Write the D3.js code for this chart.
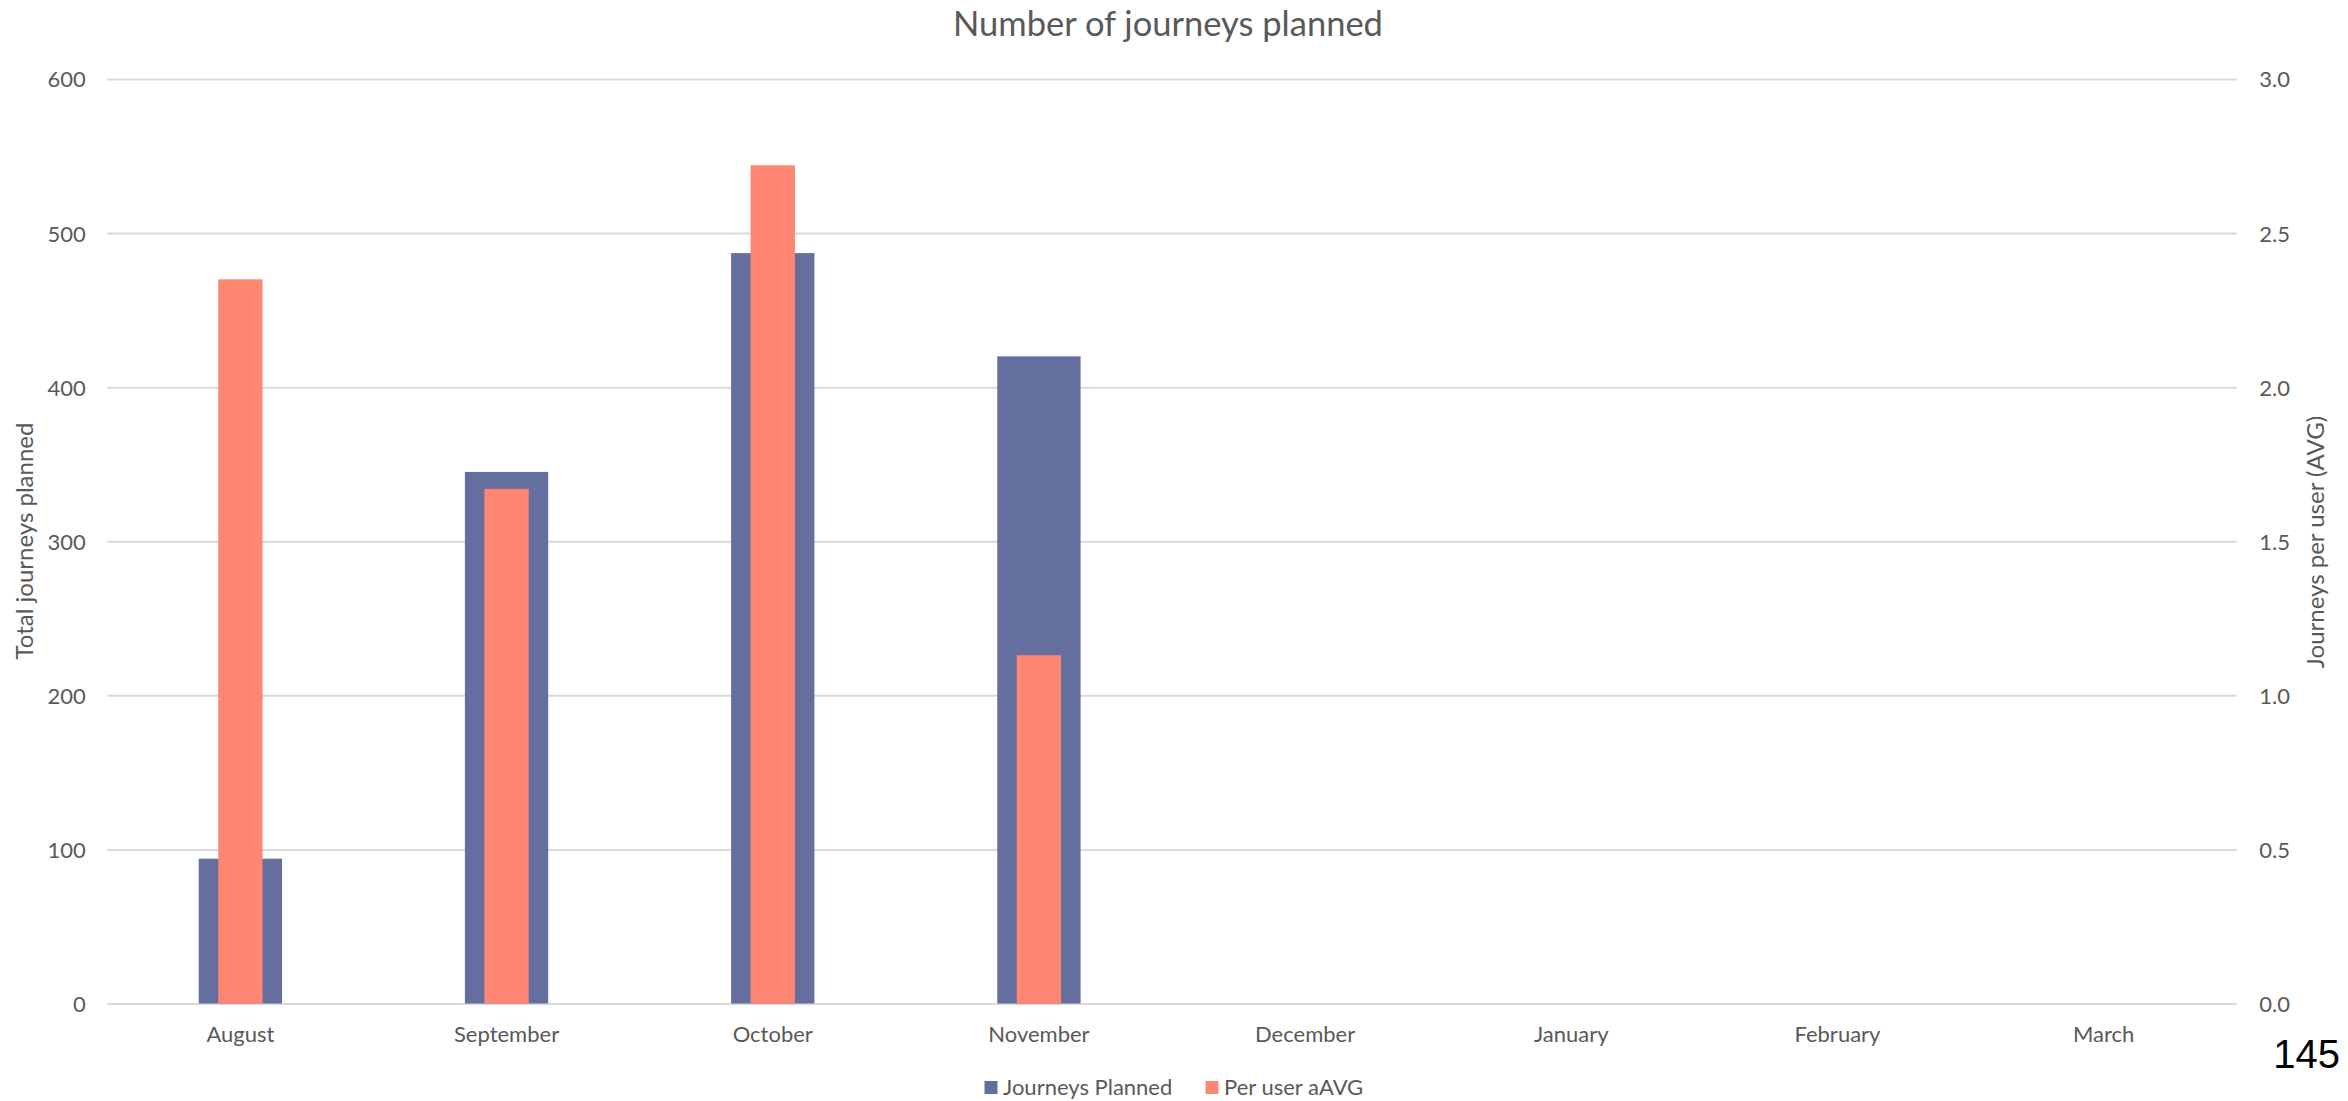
<!DOCTYPE html>
<html>
<head>
<meta charset="utf-8">
<script src="https://cdn.jsdelivr.net/npm/d3@7"></script>
<style>
  html, body { margin: 0; padding: 0; background: #ffffff; }
  svg { display: block; }
  text { font-family: Lato, "Open Sans", sans-serif; }
</style>
</head>
<body>
<script>
// ---- data ----
const months = ["August", "September", "October", "November", "December", "January", "February", "March"];
const journeysPlanned = [94, 345, 487, 420, null, null, null, null];
const perUserAvg = [2.35, 1.67, 2.72, 1.13, null, null, null, null];
const leftTicks = [0, 100, 200, 300, 400, 500, 600];
const rightTicks = [0, 0.5, 1.0, 1.5, 2.0, 2.5, 3.0];
const seriesNames = ["Journeys Planned", "Per user aAVG"];
const titleText = "Number of journeys planned";
const leftTitle = "Total journeys planned";
const rightTitle = "Journeys per user (AVG)";
const pageNumber = "145";

// ---- layout ----
const W = 2348, H = 1101;
const plot = { left: 107.3, right: 2236.7, top: 79, bottom: 1003.5 };
const blue = "#646FA0", orange = "#FF8672";
const textColor = "#595959", gridColor = "#D9D9D9";

const svg = d3.select("body").append("svg").attr("width", W).attr("height", H);

const data = months.map((m, i) => ({ month: m, jp: journeysPlanned[i], avg: perUserAvg[i] }));

const xBlue = d3.scaleBand().domain(months).range([plot.left, plot.right])
  .paddingInner(0.687).paddingOuter(0.3435);
const xOrange = d3.scaleBand().domain(months).range([plot.left, plot.right])
  .paddingInner(0.8335).paddingOuter(0.41675);
const xCat = d3.scaleBand().domain(months).range([plot.left, plot.right]).padding(0);

const yLeft = d3.scaleLinear().domain([0, 600]).range([plot.bottom, plot.top]);
const yRight = d3.scaleLinear().domain([0, 3]).range([plot.bottom, plot.top]);

// gridlines + left labels
const gLeft = svg.append("g").attr("transform", `translate(${plot.left},0)`)
  .call(d3.axisLeft(yLeft).tickValues(leftTicks).tickSize(-(plot.right - plot.left)).tickPadding(21.5).tickFormat(d3.format("d")));
gLeft.select(".domain").remove();
gLeft.selectAll(".tick line").attr("stroke", gridColor).attr("stroke-width", 2);
gLeft.selectAll(".tick text").attr("fill", textColor).style("font-size", "22px").attr("dy", "0.36em")
  .style("font-family", "Lato, sans-serif");

// right labels
const gRight = svg.append("g").attr("transform", `translate(${plot.right},0)`)
  .call(d3.axisRight(yRight).tickValues(rightTicks).tickSize(0).tickPadding(22.5).tickFormat(d3.format(".1f")));
gRight.select(".domain").remove();
gRight.selectAll(".tick text").attr("fill", textColor).style("font-size", "22px").attr("dy", "0.36em")
  .style("font-family", "Lato, sans-serif");

// x axis labels
const gX = svg.append("g").attr("transform", `translate(0,${plot.bottom})`)
  .call(d3.axisBottom(xCat).tickSize(0).tickPadding(0));
gX.select(".domain").remove();
gX.selectAll(".tick text").attr("fill", textColor).style("font-size", "22px")
  .attr("y", 38.2).attr("dy", 0).style("font-family", "Lato, sans-serif");

// bars: journeys planned (left axis)
svg.append("g").selectAll("rect")
  .data(data.filter(d => d.jp != null))
  .join("rect")
  .attr("x", d => xBlue(d.month))
  .attr("width", xBlue.bandwidth())
  .attr("y", d => yLeft(d.jp))
  .attr("height", d => yLeft(0) - yLeft(d.jp))
  .attr("fill", blue);

// bars: per user avg (right axis)
svg.append("g").selectAll("rect")
  .data(data.filter(d => d.avg != null))
  .join("rect")
  .attr("x", d => xOrange(d.month))
  .attr("width", xOrange.bandwidth())
  .attr("y", d => yRight(d.avg))
  .attr("height", d => yRight(0) - yRight(d.avg))
  .attr("fill", orange);

// title
svg.append("text").attr("x", 1168).attr("y", 36).attr("text-anchor", "middle")
  .attr("fill", textColor).style("font-size", "34.5px").text(titleText);

// axis titles
svg.append("text").attr("transform", `translate(33,541) rotate(-90)`).attr("text-anchor", "middle")
  .attr("fill", textColor).style("font-size", "24px").text(leftTitle);
svg.append("text").attr("transform", `translate(2324,542) rotate(-90)`).attr("text-anchor", "middle")
  .attr("fill", textColor).style("font-size", "24px").text(rightTitle);

// legend
const legend = svg.append("g");
const legendItems = [
  { name: seriesNames[0], color: blue, x: 984.5 },
  { name: seriesNames[1], color: orange, x: 1205.5 }
];
const li = legend.selectAll("g").data(legendItems).join("g")
  .attr("transform", d => `translate(${d.x},1081)`);
li.append("rect").attr("width", 13).attr("height", 13).attr("fill", d => d.color);
li.append("text").attr("x", 18.5).attr("y", 14).attr("fill", textColor)
  .style("font-size", "22px").text(d => d.name);

// page number
svg.append("text").attr("x", 2340).attr("y", 1068).attr("text-anchor", "end")
  .attr("fill", "#000000").style("font-family", "'Liberation Sans', Arial, sans-serif")
  .style("font-size", "40px").text(pageNumber);
</script>
</body>
</html>
